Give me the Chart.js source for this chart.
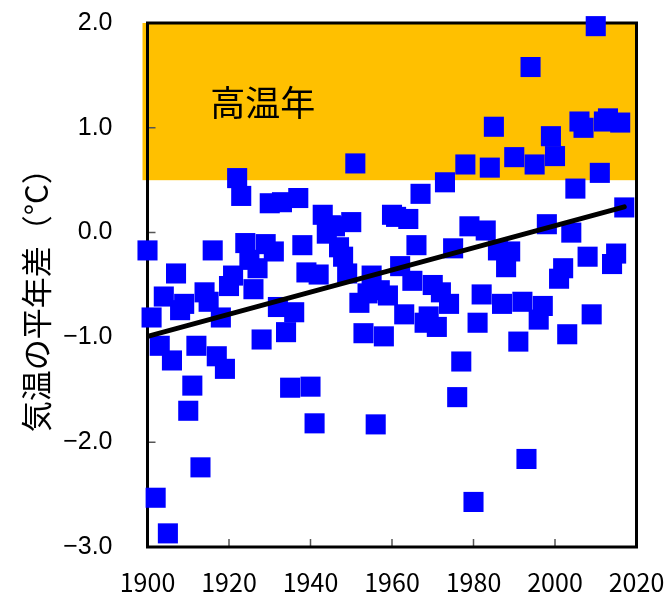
<!DOCTYPE html>
<html lang="ja">
<head>
<meta charset="utf-8">
<script src="https://cdn.jsdelivr.net/npm/chart.js@4.4.0/dist/chart.umd.min.js"></script>
<style>
  body { margin: 0; background: #fff; }
  canvas { display: block; }
</style>
</head>
<body>
<canvas id="tempChart" width="669" height="596"></canvas>
<script>
// 年ごとの気温の平年差（℃）
const years = [
  1900, 1901, 1902, 1903, 1904, 1905, 1906, 1907, 1908, 1909,
  1910, 1911, 1912, 1913, 1914, 1915, 1916, 1917, 1918, 1919,
  1920, 1921, 1922, 1923, 1924, 1925, 1926, 1927, 1928, 1929,
  1930, 1931, 1932, 1933, 1934, 1935, 1936, 1937, 1938, 1939,
  1940, 1941, 1942, 1943, 1944, 1945, 1946, 1947, 1948, 1949,
  1950, 1951, 1952, 1953, 1954, 1955, 1956, 1957, 1958, 1959,
  1960, 1961, 1962, 1963, 1964, 1965, 1966, 1967, 1968, 1969,
  1970, 1971, 1972, 1973, 1974, 1975, 1976, 1977, 1978, 1979,
  1980, 1981, 1982, 1983, 1984, 1985, 1986, 1987, 1988, 1989,
  1990, 1991, 1992, 1993, 1994, 1995, 1996, 1997, 1998, 1999,
  2000, 2001, 2002, 2003, 2004, 2005, 2006, 2007, 2008, 2009,
  2010, 2011, 2012, 2013, 2014, 2015, 2016, 2017
];
const anomalies = [
  -0.17, -0.81, -2.53, -1.08, -0.61, -2.87, -1.22, -0.39, -0.74, -0.68,
  -1.70, -1.46, -1.08, -2.24, -0.57, -0.66, -0.17, -1.18, -0.81, -1.30,
  -0.51, -0.41,  0.52,  0.35, -0.10, -0.26, -0.54, -0.34, -1.02, -0.11,
   0.28, -0.18, -0.71,  0.29, -0.95, -1.48, -0.76,  0.33, -0.12, -0.38,
  -1.47, -1.82, -0.40,  0.17, -0.01,  0.07,  0.06, -0.14, -0.23, -0.39,
   0.10,  0.66, -0.67, -0.96, -0.58, -0.41, -1.83, -0.55, -0.99, -0.60,
   0.17,  0.15, -0.32, -0.78,  0.13, -0.46, -0.12,  0.37, -0.86, -0.80,
  -0.50, -0.90, -0.57,  0.48, -0.68, -0.15, -1.57, -1.23,  0.65,  0.06,
  -2.57, -0.86, -0.59,  0.02,  0.62,  1.01, -0.17, -0.68, -0.33, -0.18,
   0.72, -1.04, -0.66, -2.16,  1.58,  0.65, -0.83, -0.70,  0.08,  0.92,
   0.73, -0.44, -0.34, -0.97,  0.00,  0.42,  1.06,  1.00, -0.23, -0.78,
   1.97,  0.57,  1.06,  1.09, -0.30, -0.20,  1.05,  0.24
];

// 長期変化傾向（直線）
const trendYears = [1900, 2017];
const trendValues = [-0.99, 0.245];

// 高温年の範囲
const hotRange = [0.5, 2.0];

const xTicks = [1900, 1920, 1940, 1960, 1980, 2000, 2020];
const yTicks = [-3, -2, -1, 0, 1, 2];

const scatterPoints = years.map((y, i) => ({ x: y, y: anomalies[i] }));
const trendPoints = trendYears.map((y, i) => ({ x: y, y: trendValues[i] }));

const framePlugin = {
  id: 'frame',
  beforeDatasetsDraw(chart) {
    const { ctx, chartArea: a, scales: { x, y } } = chart;
    ctx.save();
    // 高温年の帯
    const yTop = y.getPixelForValue(hotRange[1]);
    const yBot = y.getPixelForValue(hotRange[0]);
    ctx.fillStyle = '#FFC000';
    ctx.fillRect(a.left - 5, yTop, a.right - a.left + 5, yBot - yTop);

    // 内向きの目盛り
    ctx.strokeStyle = '#555';
    ctx.lineWidth = 1.5;
    ctx.beginPath();
    yTicks.slice(1, -1).forEach(v => {
      const py = y.getPixelForValue(v);
      ctx.moveTo(a.left, py);
      ctx.lineTo(a.left + 8, py);
    });
    xTicks.slice(1, -1).forEach(v => {
      const px = x.getPixelForValue(v);
      ctx.moveTo(px, a.bottom);
      ctx.lineTo(px, a.bottom - 8);
    });
    ctx.stroke();

    // 枠
    ctx.strokeStyle = '#000';
    ctx.lineWidth = 3;
    ctx.strokeRect(a.left, a.top, a.right - a.left, a.bottom - a.top);

    // ラベル
    ctx.fillStyle = '#000';
    ctx.font = '35px "Noto Sans CJK JP"';
    ctx.textAlign = 'center';
    ctx.textBaseline = 'middle';
    ctx.fillText('高温年', x.getPixelForValue(1928.3), y.getPixelForValue(1.24));
    ctx.restore();
  }
};

new Chart(document.getElementById('tempChart'), {
  type: 'scatter',
  data: {
    datasets: [
      {
        type: 'line',
        data: trendPoints,
        borderColor: '#000',
        borderWidth: 5,
        pointRadius: 0,
        borderCapStyle: 'round',
        fill: false,
        order: 0
      },
      {
        data: scatterPoints,
        pointStyle: 'rect',
        pointRadius: 14.2,
        pointHoverRadius: 14.2,
        backgroundColor: '#0000FF',
        borderWidth: 0,
        clip: false,
        order: 1
      }
    ]
  },
  options: {
    responsive: false,
    animation: false,
    events: [],
    layout: { padding: { top: 23, right: 32.5, left: 0, bottom: 0 } },
    plugins: {
      legend: { display: false },
      tooltip: { enabled: false }
    },
    scales: {
      x: {
        type: 'linear',
        min: 1900,
        max: 2020,
        afterBuildTicks: s => { s.ticks = xTicks.map(v => ({ value: v })); },
        afterFit: s => {
          s.height = 49;
          s.paddingLeft = 0;
          s.paddingRight = 0;
        },
        grid: { display: false, drawTicks: false },
        border: { display: false },
        ticks: {
          padding: 20,
          color: '#000',
          font: { family: '"Noto Sans CJK JP"', size: 25 },
          callback: v => String(v)
        }
      },
      y: {
        type: 'linear',
        min: -3,
        max: 2,
        afterBuildTicks: s => { s.ticks = yTicks.map(v => ({ value: v })); },
        afterFit: s => {
          s.width = 147.5;
          s.paddingTop = 0;
          s.paddingBottom = 0;
        },
        grid: { display: false, drawTicks: false },
        border: { display: false },
        ticks: {
          padding: 35,
          color: '#000',
          font: { family: '"Liberation Sans"', size: 25 },
          callback: v => v.toFixed(1).replace('-', '\u2212')
        },
        title: {
          display: true,
          text: '気温の平年差（°C）　',
          color: '#000',
          font: { family: '"Noto Sans CJK JP"', size: 31 },
          padding: { top: 18, bottom: 0 }
        }
      }
    }
  },
  plugins: [framePlugin]
});
</script>
</body>
</html>
